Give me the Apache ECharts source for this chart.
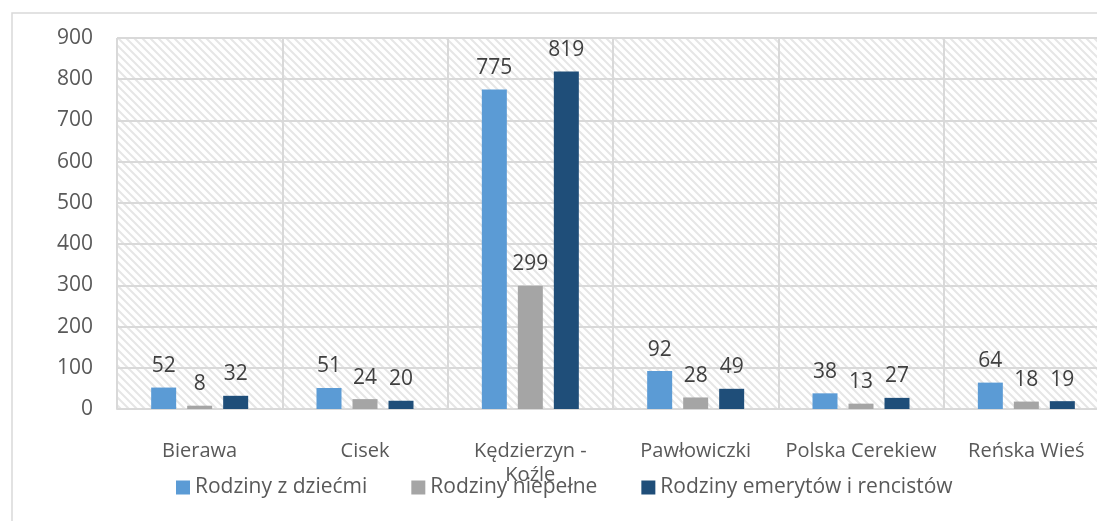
<!DOCTYPE html>
<html>
<head>
<meta charset="utf-8">
<script src="https://cdn.jsdelivr.net/npm/echarts@6/dist/echarts.min.js"></script>
<style>
  html, body { margin: 0; padding: 0; background: #fff; }
  #chart { width: 1097px; height: 521px; }
</style>
</head>
<body>
<div id="chart"></div>
<script>
// dane
const categories = ['Bierawa', 'Cisek', 'Kędzierzyn - Koźle', 'Pawłowiczki', 'Polska Cerekiew', 'Reńska Wieś']
const seriesNames = ['Rodziny z dziećmi', 'Rodziny niepełne', 'Rodziny emerytów i rencistów']
const zDziecmi = [52, 51, 775, 92, 38, 64]
const niepelne = [8, 24, 299, 28, 13, 18]
const emeryci = [32, 20, 819, 49, 27, 19]
const colors = ['#5b9bd5', '#a5a5a5', '#1f4e79']

// wzór w ukośne paski dla tła
const makeHatch = () => {
  const c = document.createElement('canvas')
  c.width = 8
  c.height = 8
  const ctx = c.getContext('2d')
  ctx.fillStyle = '#ffffff'
  ctx.fillRect(0, 0, 8, 8)
  ctx.strokeStyle = '#e6e6e6'
  ctx.lineWidth = 2
  ctx.beginPath()
  ctx.moveTo(-2, -2); ctx.lineTo(10, 10)
  ctx.moveTo(-10, -2); ctx.lineTo(2, 10)
  ctx.moveTo(6, -2); ctx.lineTo(18, 10)
  ctx.stroke()
  return c
}

const font = 'Open Sans'
const chart = echarts.init(document.getElementById('chart'))

const barSeries = (name, data, i) => ({
  name: name,
  type: 'bar',
  data: data,
  barWidth: 25,
  barGap: '44%',
  itemStyle: { color: colors[i] },
  label: {
    show: true,
    position: 'top',
    distance: 11,
    color: '#404040',
    fontFamily: font,
    fontSize: 21
  },
  animation: false
})

chart.setOption({
  animation: false,
  graphic: [{
    type: 'rect',
    shape: { x: 12, y: 13, width: 1200, height: 600 },
    style: { fill: 'none', stroke: '#d9d9d9', lineWidth: 1.5 },
    z: -10
  }],
  grid: {
    left: 117,
    top: 38,
    width: 992,
    height: 371,
    outerBoundsMode: 'none',
    show: true,
    borderWidth: 0,
    backgroundColor: { image: makeHatch(), repeat: 'repeat' }
  },
  legend: {
    left: 176,
    top: 477,
    padding: 0,
    itemWidth: 14,
    itemHeight: 14,
    itemGap: 44,
    icon: 'rect',
    textStyle: { color: '#595959', fontFamily: font, fontSize: 21 },
    data: seriesNames
  },
  xAxis: {
    type: 'category',
    data: categories,
    axisLine: { show: true, lineStyle: { color: '#d9d9d9', width: 2 } },
    axisTick: { show: false },
    splitLine: { show: true, interval: 0, lineStyle: { color: '#d9d9d9', width: 2 } },
    axisLabel: {
      interval: 0,
      margin: 30,
      color: '#595959',
      fontFamily: font,
      fontSize: 20,
      lineHeight: 24,
      verticalAlign: 'top',
      formatter: v => v.replace(' - ', ' -\n')
    }
  },
  yAxis: {
    type: 'value',
    min: 0,
    max: 900,
    interval: 100,
    axisLine: { show: false },
    axisTick: { show: false },
    splitLine: { lineStyle: { color: '#d9d9d9', width: 2 } },
    axisLabel: { margin: 24, color: '#595959', fontFamily: font, fontSize: 21 }
  },
  series: [
    barSeries(seriesNames[0], zDziecmi, 0),
    barSeries(seriesNames[1], niepelne, 1),
    barSeries(seriesNames[2], emeryci, 2)
  ]
})
</script>
</body>
</html>
